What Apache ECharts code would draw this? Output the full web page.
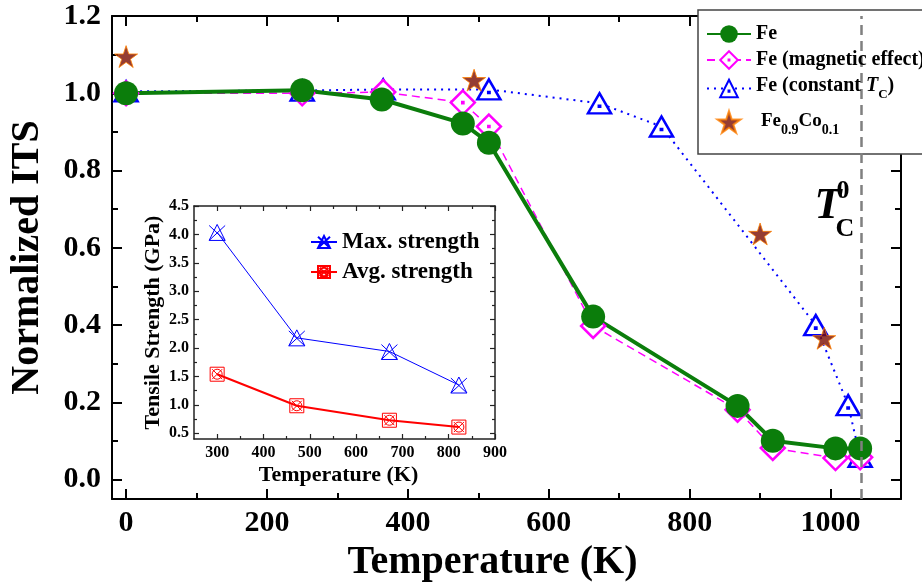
<!DOCTYPE html>
<html>
<head>
<meta charset="utf-8">
<script src="https://cdn.jsdelivr.net/npm/echarts@6/dist/echarts.min.js"></script>
<style>
html,body{margin:0;padding:0;background:#fff;}
#chart{width:922px;height:588px;}
</style>
</head>
<body>
<div id="chart"></div>
<script>
// ---------- data ----------
const feT = [0, 250, 363, 478, 515, 663, 868, 918, 1007, 1042];
const feITS = [1.0, 1.008, 0.984, 0.922, 0.872, 0.422, 0.191, 0.101, 0.081, 0.081];
const magT = [0, 250, 365, 478, 515, 663, 868, 918, 1007, 1042];
const magITS = [1.0, 1.0, 1.003, 0.976, 0.914, 0.398, 0.181, 0.082, 0.056, 0.058];
const tcT = [0, 250, 365, 515, 672, 760, 979, 1025, 1042];
const tcITS = [1.005, 1.007, 1.010, 1.010, 0.974, 0.914, 0.400, 0.193, 0.059];
const coT = [0, 494, 900, 991];
const coITS = [1.095, 1.034, 0.636, 0.366];
const insetT = [300, 472, 672, 822];
const maxStrength = [4.035, 2.18, 1.94, 1.35];
const avgStrength = [1.54, 0.985, 0.73, 0.61];
const tcZero = 1043;

// tick labels
const mainXTicks = [0, 200, 400, 600, 800, 1000];
const mainXMinor = [100, 300, 500, 700, 900];
const mainYTicks = [0, 0.2, 0.4, 0.6, 0.8, 1.0, 1.2];
const mainYMinor = [0.1, 0.3, 0.5, 0.7, 0.9, 1.1];
const insetXTicks = [300, 400, 500, 600, 700, 800, 900];
const insetXMinor = [350, 450, 550, 650, 750, 850];
const insetYTicks = [0.5, 1.0, 1.5, 2.0, 2.5, 3.0, 3.5, 4.0, 4.5];
const insetYMinor = [0.75, 1.25, 1.75, 2.25, 2.75, 3.25, 3.75, 4.25];

const FONT = '"Liberation Serif","Times New Roman",serif';
const zip = (a, b) => a.map((v, i) => [v, b[i]]);

const DIAMOND = 'path://M0,-12L12,0L0,12L-12,0Z M-0.6,-0.6L0.6,-0.6L0.6,0.6L-0.6,0.6Z';
const TRI = 'path://M0,-10L11.5,10L-11.5,10Z M-0.6,2.4L0.6,2.4L0.6,3.6L-0.6,3.6Z';
const STAR = 'path://M0,-10L2.245,-3.09L9.51,-3.09L3.633,1.18L5.88,8.09L0,3.82L-5.88,8.09L-3.633,1.18L-9.51,-3.09L-2.245,-3.09Z';
const TRIX = 'path://M0,-8L8,7L-8,7Z M-8,-7L8,7 M8,-7L-8,7';
const SQX = 'path://M-7,-7L7,-7L7,7L-7,7Z M-5,-5L5,5 M5,-5L-5,5 M-5,0A5,5,0,1,0,5,0A5,5,0,1,0,-5,0Z';

function mkAxis(o) {
  const ax = {
    type: 'value', gridIndex: o.grid, position: o.pos, min: o.min, max: o.max,
    axisLine: { show: !!o.line, onZero: false, lineStyle: { color: o.color, width: o.lw } },
    axisTick: { show: true, inside: true, length: o.len, customValues: o.ticks,
                lineStyle: { color: o.color, width: o.tw } },
    axisLabel: o.label ? Object.assign({ show: true, customValues: o.ticks }, o.label) : { show: false },
    splitLine: { show: false },
    minorTick: { show: false }
  };
  if (o.name) {
    ax.name = o.name;
    ax.nameLocation = 'middle';
    ax.nameGap = o.nameGap;
    ax.nameTextStyle = o.nameStyle;
  }
  return ax;
}

const mainLabel = { fontFamily: FONT, fontWeight: 'bold', fontSize: 30, color: '#000' };
const insetLabel = { fontFamily: FONT, fontWeight: 'bold', fontSize: 16, color: '#000' };

const xAxes = [
  mkAxis({ grid: 0, pos: 'bottom', min: -20, max: 1100, line: true, color: '#000', lw: 2, len: 10, tw: 2,
    ticks: mainXTicks, label: Object.assign({ margin: 9, formatter: v => String(v) }, mainLabel),
    name: 'Temperature (K)', nameGap: 41,
    nameStyle: { fontFamily: FONT, fontWeight: 'bold', fontSize: 40, color: '#000', padding: [0, 28, 0, 0] } }),
  mkAxis({ grid: 0, pos: 'bottom', min: -20, max: 1100, line: false, color: '#000', lw: 2, len: 6, tw: 2, ticks: mainXMinor }),
  mkAxis({ grid: 0, pos: 'top', min: -20, max: 1100, line: true, color: '#000', lw: 2, len: 10, tw: 2, ticks: mainXTicks }),
  mkAxis({ grid: 0, pos: 'top', min: -20, max: 1100, line: false, color: '#000', lw: 2, len: 6, tw: 2, ticks: mainXMinor }),
  mkAxis({ grid: 1, pos: 'bottom', min: 250, max: 900, line: true, color: '#222', lw: 1.5, len: 5, tw: 1.2,
    ticks: insetXTicks, label: Object.assign({ margin: 6, formatter: v => String(v) }, insetLabel),
    name: 'Temperature (K)', nameGap: 25,
    nameStyle: { fontFamily: FONT, fontWeight: 'bold', fontSize: 22, color: '#000', padding: [0, 12, 0, 0] } }),
  mkAxis({ grid: 1, pos: 'bottom', min: 250, max: 900, line: false, color: '#222', lw: 1.5, len: 3, tw: 1.2, ticks: insetXMinor }),
  mkAxis({ grid: 1, pos: 'top', min: 250, max: 900, line: true, color: '#222', lw: 1.5, len: 5, tw: 1.2, ticks: insetXTicks }),
  mkAxis({ grid: 1, pos: 'top', min: 250, max: 900, line: false, color: '#222', lw: 1.5, len: 3, tw: 1.2, ticks: insetXMinor })
];

const yAxes = [
  mkAxis({ grid: 0, pos: 'left', min: -0.05, max: 1.2, line: true, color: '#000', lw: 2, len: 10, tw: 2,
    ticks: mainYTicks, label: Object.assign({ margin: 11, formatter: v => v.toFixed(1) }, mainLabel),
    name: 'Normalized ITS', nameGap: 64,
    nameStyle: { fontFamily: FONT, fontWeight: 'bold', fontSize: 40, color: '#000' } }),
  mkAxis({ grid: 0, pos: 'left', min: -0.05, max: 1.2, line: false, color: '#000', lw: 2, len: 6, tw: 2, ticks: mainYMinor }),
  mkAxis({ grid: 0, pos: 'right', min: -0.05, max: 1.2, line: true, color: '#000', lw: 2, len: 10, tw: 2, ticks: mainYTicks }),
  mkAxis({ grid: 0, pos: 'right', min: -0.05, max: 1.2, line: false, color: '#000', lw: 2, len: 6, tw: 2, ticks: mainYMinor }),
  mkAxis({ grid: 1, pos: 'left', min: 0.4, max: 4.5, line: true, color: '#222', lw: 1.5, len: 5, tw: 1.2,
    ticks: insetYTicks, label: Object.assign({ margin: 5, formatter: v => v.toFixed(1) }, insetLabel),
    name: 'Tensile Strength (GPa)', nameGap: 30,
    nameStyle: { fontFamily: FONT, fontWeight: 'bold', fontSize: 22, color: '#000' } }),
  mkAxis({ grid: 1, pos: 'left', min: 0.4, max: 4.5, line: false, color: '#222', lw: 1.5, len: 3, tw: 1.2, ticks: insetYMinor }),
  mkAxis({ grid: 1, pos: 'right', min: 0.4, max: 4.5, line: true, color: '#222', lw: 1.5, len: 5, tw: 1.2, ticks: insetYTicks }),
  mkAxis({ grid: 1, pos: 'right', min: 0.4, max: 4.5, line: false, color: '#222', lw: 1.5, len: 3, tw: 1.2, ticks: insetYMinor })
];

const richBase = { fontFamily: FONT, fontWeight: 'bold', color: '#000' };

const option = {
  animation: false,
  backgroundColor: '#fff',
  grid: [
    { left: 111, top: 16, right: 21, bottom: 89 },
    { left: 194, top: 206, right: 427, bottom: 149, show: true, backgroundColor: '#fff', borderWidth: 0 }
  ],
  xAxis: xAxes,
  yAxis: yAxes,
  legend: [
    {
      data: ['Fe', 'Fe (magnetic effect)', 'Fe (constant TC)', 'Fe0.9Co0.1'],
      orient: 'vertical', left: 698, top: 10, z: 6,
      padding: [14, 12, 14, 8], itemGap: 6, itemWidth: 44, itemHeight: 22,
      borderWidth: 0, backgroundColor: 'transparent',
      selectedMode: false,
      textStyle: { fontFamily: FONT, fontWeight: 'bold', fontSize: 20, color: '#000',
        rich: {
          a: Object.assign({ fontSize: 20, lineHeight: 20, verticalAlign: 'top' }, richBase),
          i: Object.assign({ fontSize: 20, lineHeight: 20, verticalAlign: 'top', fontStyle: 'italic' }, richBase),
          s: Object.assign({ fontSize: 13, lineHeight: 25, verticalAlign: 'bottom' }, richBase),
          b0: Object.assign({ fontSize: 19, lineHeight: 20, verticalAlign: 'top', padding: [5, 0, 0, 5] }, richBase),
          b: Object.assign({ fontSize: 19, lineHeight: 20, verticalAlign: 'top', padding: [5, 0, 0, 0] }, richBase),
          s2: Object.assign({ fontSize: 14, lineHeight: 30, verticalAlign: 'bottom' }, richBase)
        }
      },
      formatter: function (n) {
        if (n === 'Fe (constant TC)') return '{a|Fe (constant }{i|T}{s|C}{a|)}';
        if (n === 'Fe0.9Co0.1') return '{b0|Fe}{s2|0.9}{b|Co}{s2|0.1}';
        return n;
      }
    },
    {
      data: ['Max. strength', 'Avg. strength'],
      orient: 'vertical', left: 310, top: 229, padding: 0,
      itemGap: 4, itemWidth: 26, itemHeight: 15, selectedMode: false,
      textStyle: { fontFamily: FONT, fontWeight: 'bold', fontSize: 23, lineHeight: 26, color: '#000' }
    }
  ],
  graphic: [
    { type: 'polygon', z: 5, silent: true,
      shape: { points: [[698, 10], [960, 10], [960, 154], [698, 154]] },
      style: { fill: '#fff', stroke: null } },
    { type: 'polyline', z: 5, silent: true,
      shape: { points: [[960, 10], [698, 10], [698, 154], [960, 154]] },
      style: { fill: null, stroke: '#444', lineWidth: 1.5 } },
    { type: 'text', x: 828, y: 207, z: 100,
      style: { text: 'T', fontFamily: FONT, fontWeight: 'bold', fontStyle: 'italic', fontSize: 44,
               fill: '#000', align: 'center', verticalAlign: 'middle' } },
    { type: 'text', x: 843, y: 191, z: 100,
      style: { text: '0', fontFamily: FONT, fontWeight: 'bold', fontSize: 26,
               fill: '#000', align: 'center', verticalAlign: 'middle' } },
    { type: 'text', x: 845, y: 229, z: 100,
      style: { text: 'C', fontFamily: FONT, fontWeight: 'bold', fontSize: 26,
               fill: '#000', align: 'center', verticalAlign: 'middle' } }
  ],
  series: [
    {
      name: 'Fe (constant TC)', type: 'line', xAxisIndex: 0, yAxisIndex: 0,
      data: zip(tcT, tcITS), symbol: TRI, symbolSize: [23, 20],
      itemStyle: { color: '#fff', borderColor: '#0000ff', borderWidth: 2.5 },
      lineStyle: { color: '#0000ff', width: 2, type: [2, 5] }, z: 2
    },
    {
      name: 'Fe (magnetic effect)', type: 'line', xAxisIndex: 0, yAxisIndex: 0,
      data: zip(magT, magITS), symbol: DIAMOND, symbolSize: 24,
      itemStyle: { color: '#fff', borderColor: '#ff00ff', borderWidth: 2.5 },
      lineStyle: { color: '#ff00ff', width: 1.5, type: [8, 5] }, z: 2
    },
    {
      name: 'Fe', type: 'line', xAxisIndex: 0, yAxisIndex: 0,
      data: zip(feT, feITS), symbol: 'circle', symbolSize: 24,
      itemStyle: { color: '#0b7d0b' },
      lineStyle: { color: '#0b7d0b', width: 4 }, z: 2
    },
    {
      name: 'Fe0.9Co0.1', type: 'scatter', xAxisIndex: 0, yAxisIndex: 0,
      data: zip(coT, coITS), symbol: STAR, symbolSize: 23, symbolKeepAspect: true,
      itemStyle: { color: '#7a0c00', borderColor: '#ff7f00', borderWidth: 1 }, z: 2,
      markLine: {
        silent: true, symbol: 'none', label: { show: false },
        lineStyle: { color: '#808080', width: 2.5, type: [10, 6] },
        data: [{ xAxis: tcZero }]
      }
    },
    {
      name: 'Max. strength', type: 'line', xAxisIndex: 4, yAxisIndex: 4,
      data: zip(insetT, maxStrength), symbol: TRIX, symbolSize: 16,
      itemStyle: { color: 'rgba(255,255,255,0)', borderColor: '#0000ff', borderWidth: 1 },
      lineStyle: { color: '#0000ff', width: 1 }, z: 2
    },
    {
      name: 'Avg. strength', type: 'line', xAxisIndex: 4, yAxisIndex: 4,
      data: zip(insetT, avgStrength), symbol: SQX, symbolSize: 14,
      itemStyle: { color: 'rgba(255,255,255,0)', borderColor: '#ff0000', borderWidth: 1 },
      lineStyle: { color: '#ff0000', width: 2 }, z: 2
    }
  ]
};

const chart = echarts.init(document.getElementById('chart'), null, { renderer: 'canvas' });
chart.setOption(option);
</script>
</body>
</html>
